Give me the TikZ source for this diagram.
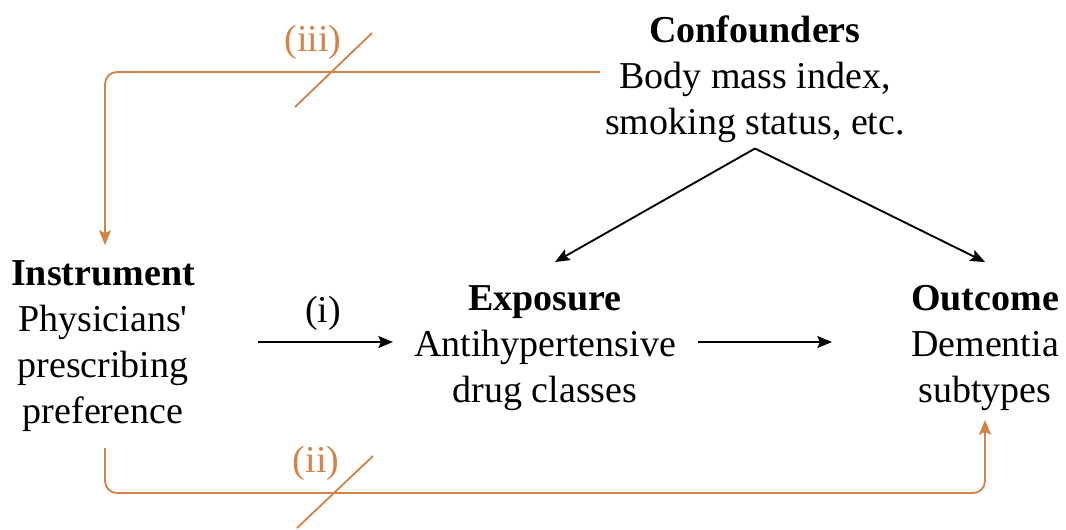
\documentclass[tikz,border=0pt]{standalone}
\usepackage{fontspec}
\setmainfont{Liberation Serif}
\usetikzlibrary{arrows.meta,calc}
\definecolor{ivorange}{RGB}{212,131,72}
\begin{document}
\begin{tikzpicture}[x=0.75pt,y=-0.75pt,
  txt/.style={font=\fontsize{28.5}{34.5}\selectfont, align=center, inner sep=0pt},
  blk/.style={txt, anchor=north},
  arr/.style={line width=1.4pt, -{Stealth[length=11pt,width=9pt,inset=2pt]}},
  oarr/.style={arr, draw=ivorange, rounded corners=9pt},
  slash/.style={line width=1.4pt, draw=ivorange},
  olbl/.style={txt, text=ivorange}]
\useasboundingbox (0,0) rectangle (1066,529);

\node[blk] (conf) at (755,15) {\textbf{Confounders}\\Body mass index,\\smoking status, etc.};
\node[blk] (instr) at (103,260) {\textbf{Instrument}\\Physicians\textquotesingle\\prescribing\\preference};
\node[blk] (expo) at (545,285) {\textbf{Exposure}\\Antihypertensive\\drug classes};
\node[blk] (outc) at (985,285) {\textbf{Outcome}\\Dementia\\subtypes};

% (i) and exposure -> outcome
\draw[arr] (258,342) coordinate (istart) -- (393,342) coordinate (iend);
\node[txt] (lbli) at (323,313) {(i)};
\draw[arr] (698,342) coordinate (estart) -- (832,342) coordinate (eend);

% confounders
\coordinate (apex) at ($(conf.south)+(0,6)$);
\coordinate (etip) at ($(expo.north)+(10,-23)$);
\coordinate (otip) at ($(outc.north)+(0,-23)$);
\draw[arr] (apex) -- (etip);
\draw[arr] (apex) -- (otip);

% (iii)
\coordinate (c3) at (600,72);
\coordinate (i3) at ($(instr.north)+(2,-15)$);
\draw[oarr] (c3) -| (i3);
\draw[slash] (295,107) coordinate (s3a) -- (372,33) coordinate (s3b);
\node[olbl] (lbliii) at (313,42) {(iii)};

% (ii)
\coordinate (i2) at (105,448);
\coordinate (o2) at (985,420);
\draw[oarr] (i2) -- (105,493) -| (o2);
\draw[slash] (297,528) coordinate (s2a) -- (373,456) coordinate (s2b);
\node[olbl] (lblii) at (316,463) {(ii)};
\end{tikzpicture}
\end{document}
